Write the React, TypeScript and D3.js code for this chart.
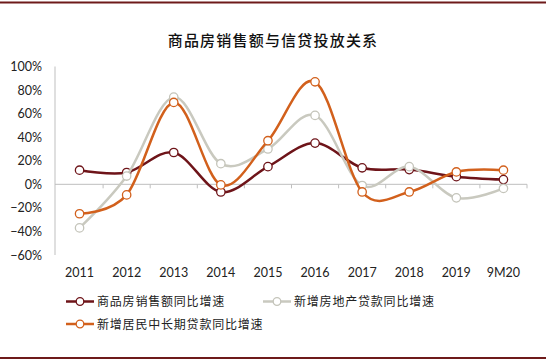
import React from 'react'
import * as d3 from 'd3'

const categories = ['2011', '2012', '2013', '2014', '2015', '2016', '2017', '2018', '2019', '9M20']
const salesGrowth = [12, 10, 27, -6.5, 15, 35, 14, 12.5, 6.5, 4]
const realEstateLoanGrowth = [-37, 7, 74, 17.5, 30, 58.5, -1, 15, -11.5, -3.5]
const mortgageLoanGrowth = [-25, -9, 69.5, -0.5, 37, 87, -6.5, -6.5, 10.5, 12]
const yTicks = [-60, -40, -20, 0, 20, 40, 60, 80, 100]

const series = [
  { name: '商品房销售额同比增速', values: salesGrowth, color: '#6e1419', marker: '#6e1419' },
  { name: '新增房地产贷款同比增速', values: realEstateLoanGrowth, color: '#c9c9bf', marker: '#c4c4ba' },
  { name: '新增居民中长期贷款同比增速', values: mortgageLoanGrowth, color: '#d2601c', marker: '#d2601c' },
]

const width = 550
const height = 362
const plot = { left: 56, right: 527, top: 66.5, bottom: 255 }

export default function App() {
  const x = d3.scaleBand<string>().domain(categories).range([plot.left, plot.right]).padding(0)
  const y = d3.scaleLinear().domain([-60, 100]).range([plot.bottom, plot.top])
  const cx = (c: string) => (x(c) ?? 0) + x.bandwidth() / 2

  // excel style smoothed line
  const line = d3
    .line<number>()
    .x((_, i) => cx(categories[i]))
    .y((d) => y(d))
    .curve(d3.curveCatmullRom.alpha(0))

  const boundaries = categories.map((c) => (x(c) ?? 0) + x.bandwidth())
  const cjk = '"Noto Sans CJK SC", sans-serif'
  const latin = 'Lato, "Open Sans", sans-serif'

  const legend = [
    { s: series[0], lx: 66, ly: 301.5 },
    { s: series[1], lx: 263, ly: 301.5 },
    { s: series[2], lx: 66, ly: 324 },
  ]

  return (
    <svg width={width} height={height} style={{ position: 'absolute', left: 0, top: 0 }}>
      <rect x={0} y={0} width={width} height={height} fill="#fff" />
      <line x1={0} x2={546} y1={2.5} y2={2.5} stroke="#6e1a1a" strokeWidth={2} />
      <line x1={0} x2={546} y1={358} y2={358} stroke="#6e1a1a" strokeWidth={2} />

      <text
        x={273}
        y={46}
        textAnchor="middle"
        fontFamily={cjk}
        fontSize={15}
        fontWeight={500}
        letterSpacing={1.2}
        fill="#111"
      >
        商品房销售额与信贷投放关系
      </text>

      {yTicks.map((t) => (
        <text
          key={t}
          x={42}
          y={y(t) + 4.5}
          textAnchor="end"
          fontFamily={latin}
          fontSize={12.5}
          fill="#222"
        >
          {d3.format('.0%')(t / 100)}
        </text>
      ))}

      <line x1={plot.left - 1} x2={plot.left - 1} y1={plot.top} y2={plot.bottom} stroke="#bfbfbf" />
      <line x1={plot.left - 1} x2={plot.right} y1={y(0)} y2={y(0)} stroke="#bfbfbf" />
      {boundaries.map((b, i) => (
        <line key={i} x1={b} x2={b} y1={y(0)} y2={y(0) + 4} stroke="#bfbfbf" />
      ))}

      {categories.map((c) => (
        <text
          key={c}
          x={cx(c)}
          y={277}
          textAnchor="middle"
          fontFamily={latin}
          fontSize={12.5}
          fill="#222"
        >
          {c}
        </text>
      ))}

      {series.map((s) => (
        <g key={s.name}>
          <path d={line(s.values) ?? ''} fill="none" stroke={s.color} strokeWidth={2.5} />
          {s.values.map((v, i) => (
            <circle
              key={i}
              cx={cx(categories[i])}
              cy={y(v)}
              r={4.2}
              fill="#fff"
              stroke={s.marker}
              strokeWidth={1.3}
            />
          ))}
        </g>
      ))}

      {legend.map(({ s, lx, ly }) => (
        <g key={s.name}>
          <line x1={lx} x2={lx + 28} y1={ly} y2={ly} stroke={s.color} strokeWidth={2.5} />
          <circle cx={lx + 14} cy={ly} r={3.8} fill="#fff" stroke={s.marker} strokeWidth={1.3} />
          <text
            x={lx + 31}
            y={ly + 4.5}
            fontFamily={cjk}
            fontSize={12}
            letterSpacing={0.8}
            fill="#222"
          >
            {s.name}
          </text>
        </g>
      ))}
    </svg>
  )
}
